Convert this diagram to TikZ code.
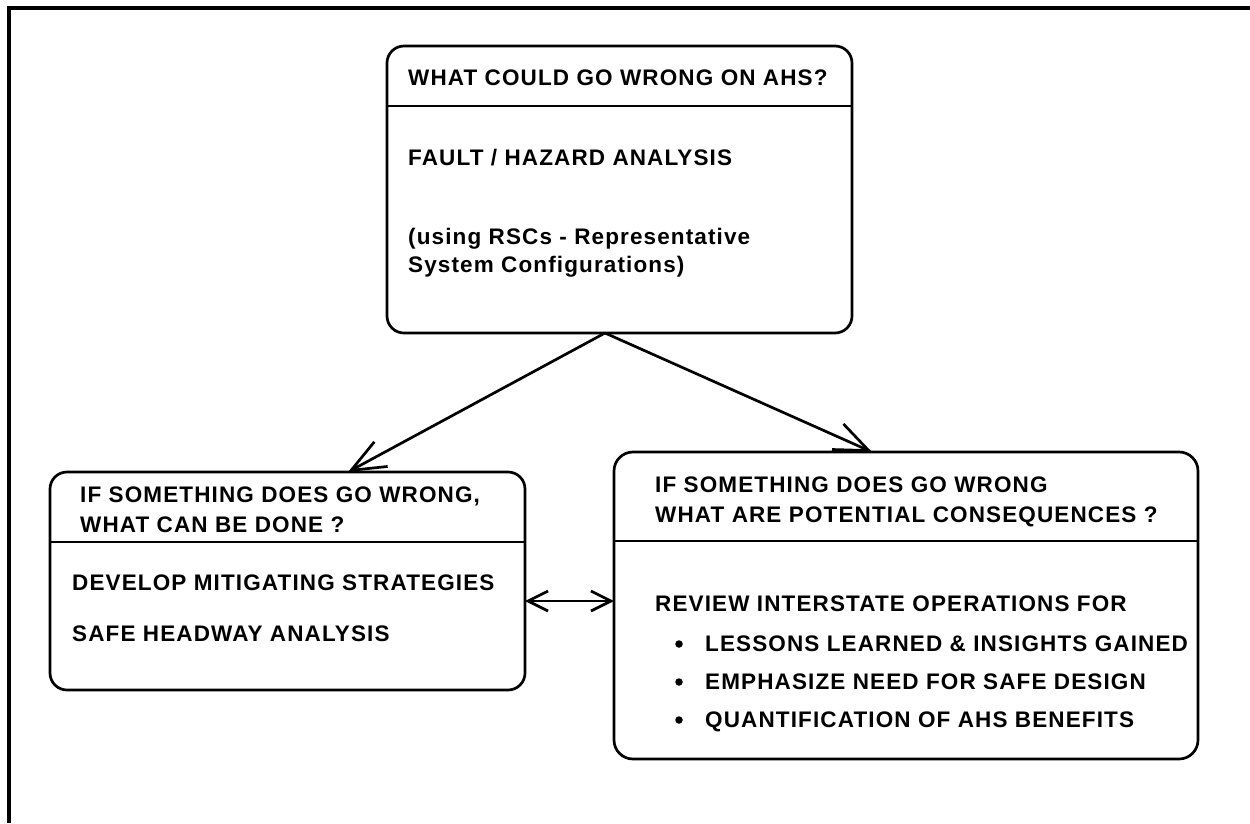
\documentclass[tikz,border=0pt]{standalone}
\usepackage{fontspec}
\setmainfont{Liberation Sans}
\newfontfamily\boxfont{Liberation Sans}[LetterSpace=5]
\usetikzlibrary{arrows.meta,calc}
\tikzset{
  box/.style={draw, line width=2.7pt, rounded corners=17pt, inner sep=0pt, outer sep=0pt, anchor=north west},
  sepline/.style={line width=2.7pt},
  txt/.style={inner sep=0pt, anchor=base west, font=\boxfont\bfseries\fontsize{22.5}{30}\selectfont},
  dot/.style={circle, fill, inner sep=0pt, minimum size=7.5pt},
  bigarrow/.style={line width=2.7pt, -{Straight Barb[length=34pt,width=28pt,line width=2.7pt]}},
  dblarrow/.style={line width=2.7pt, {Straight Barb[length=20pt,width=20pt,line width=2.7pt]}-{Straight Barb[length=20pt,width=20pt,line width=2.7pt]}},
}
\begin{document}
\begin{tikzpicture}[x=1pt,y=-1pt]
\useasboundingbox (0,0) rectangle (1250,823);
% frame
\draw[line width=4pt] (9,823) -- (9,8) -- (1250,8);
% top box
\node[box, minimum width=465pt, minimum height=287pt] (top) at (387,46) {};
\draw[sepline] (387,106) -- (852,106);
\node[txt] (t1) at (408,85) {WHAT COULD GO WRONG ON AHS?};
\node[txt] (t2) at (408,165) {FAULT / HAZARD ANALYSIS};
\node[txt] (t3) at (408,244) {(using RSCs - Representative};
\node[txt] (t4) at (408,272) {System Configurations)};
% left box
\node[box, minimum width=475pt, minimum height=218pt] (lbox) at (50,472) {};
\draw[sepline] (50,542) -- (525,542);
\node[txt] (l1) at (80,502) {IF SOMETHING DOES GO WRONG,};
\node[txt] (l2) at (80,532) {WHAT CAN BE DONE ?};
\node[txt] (l3) at (72,590) {DEVELOP MITIGATING STRATEGIES};
\node[txt] (l4) at (72,641) {SAFE HEADWAY ANALYSIS};
% right box
\node[box, minimum width=584pt, minimum height=307pt, rounded corners=19pt] (rbox) at (614,452) {};
\draw[sepline] (614,541) -- (1198,541);
\node[txt] (r1) at (655,492) {IF SOMETHING DOES GO WRONG};
\node[txt] (r2) at (655,522) {WHAT ARE POTENTIAL CONSEQUENCES ?};
\node[txt] (r3) at (655,611) {REVIEW INTERSTATE OPERATIONS FOR};
\node[dot] (b1) at (679,644) {};
\node[txt] (r4) at (705,651) {LESSONS LEARNED \& INSIGHTS GAINED};
\node[dot] (b2) at (679,682) {};
\node[txt] (r5) at (705,689) {EMPHASIZE NEED FOR SAFE DESIGN};
\node[dot] (b3) at (679,720) {};
\node[txt] (r6) at (705,727) {QUANTIFICATION OF AHS BENEFITS};
% connectors
\coordinate (apex) at ($(top.south west)+(218,0)$);
\draw[bigarrow] (apex) -- ($(lbox.north west)+(298,0)$);
\draw[bigarrow] (apex) -- ($(rbox.north west)+(258,0)$);
\draw[dblarrow] ($(lbox.north east)+(0,129)$) -- ($(rbox.north west)+(0,149)$);
\end{tikzpicture}
\end{document}
